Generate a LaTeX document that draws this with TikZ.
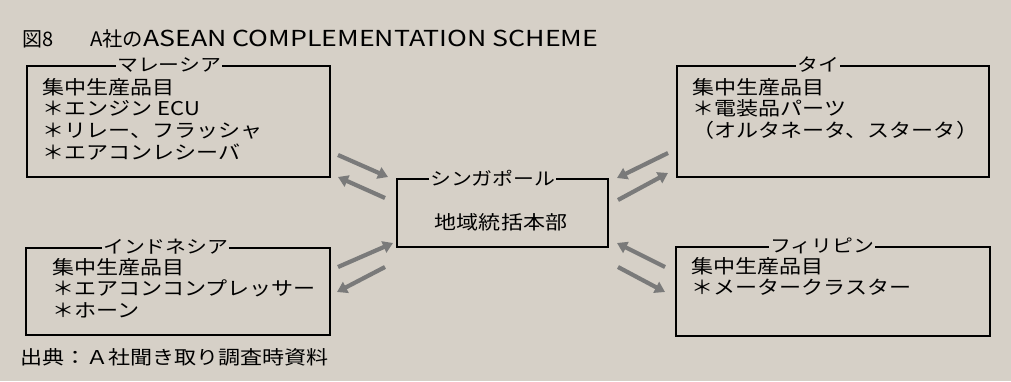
\documentclass[tikz,border=0pt]{standalone}
\usepackage{fontspec}
\setmainfont[FakeStretch=1.16]{Noto Sans CJK JP}
\newfontfamily\plainjp{Noto Sans CJK JP}
\usetikzlibrary{arrows.meta}
\definecolor{bg}{RGB}{214,208,199}
\definecolor{arr}{RGB}{122,122,122}
\begin{document}
\begin{tikzpicture}[x=1pt,y=-1pt,
  box/.style={draw=black, line width=1.6pt, inner sep=0pt, anchor=north west},
  lbl/.style={fill=bg, inner xsep=1pt, inner ysep=0pt, anchor=west, font=\fontsize{18}{18}\selectfont},
  body/.style={anchor=north west, inner sep=0pt, align=left, font=\fontsize{19}{21.7}\selectfont},
  flow/.style={draw=arr, line width=4.2pt, -{Triangle[width=12pt,length=10pt]}}]
\fill[bg] (0,0) rectangle (1011,381);
\useasboundingbox (0,0) rectangle (1011,381);

% title
\node[anchor=base west, inner sep=0pt, font=\plainjp\fontsize{20}{20}\selectfont] (title) at (22,46)
  {\makebox[68pt][l]{図8}\resizebox{53pt}{\height}{A社の}\resizebox{455pt}{\height}{\fontsize{22}{22}\selectfont ASEAN COMPLEMENTATION SCHEME}};

% boxes
\node[box, minimum width=303, minimum height=111] (my) at (26,65) {};
\node[box, minimum width=304, minimum height=87] (id) at (25,247) {};
\node[box, minimum width=211, minimum height=68] (sg) at (396,178) {};
\node[box, minimum width=312, minimum height=111] (th) at (676,65) {};
\node[box, minimum width=314, minimum height=89] (ph) at (675,246) {};

% labels
\node[lbl] (my-l) at (116,65) {マレーシア\hspace{18pt}};
\node[lbl] (id-l) at (102,247) {インドネシア\hspace{6pt}};
\node[lbl] (sg-l) at (429,178) {シンガポール\hspace{12pt}};
\node[lbl] (th-l) at (796,65) {タイ\hspace{14pt}};
\node[lbl] (ph-l) at (769,246) {フィリピン\hspace{6pt}};

% contents
\node[body] (my-t) at (42,78) {集中生産品目\\＊エンジン ECU\\＊リレー、フラッシャ\\＊エアコンレシーバ};
\node[body] (id-t) at (52,258) {集中生産品目\\＊エアコンコンプレッサー\\＊ホーン};
\node[body] (th-t) at (692,78) {集中生産品目\\＊電装品パーツ\\（オルタネータ、スタータ）};
\node[body] (ph-t) at (691,257) {集中生産品目\\＊メータークラスター};
\node[inner sep=0pt, font=\fontsize{19}{19}\selectfont] (sg-t) at (501,222) {地域統括本部};

% source
\node[anchor=west, inner sep=0pt, font=\fontsize{19}{19}\selectfont] (src) at (20,357) {出典：Ａ社聞き取り調査時資料};

% arrow end points
\coordinate (a1) at (338,155); \coordinate (b1) at (388,177);
\coordinate (a2) at (385,198); \coordinate (b2) at (338,177);
\coordinate (a3) at (338,267); \coordinate (b3) at (393,243);
\coordinate (a4) at (385,267); \coordinate (b4) at (337,292);
\coordinate (a5) at (668,153); \coordinate (b5) at (617,178);
\coordinate (a6) at (618,200); \coordinate (b6) at (668,173);
\coordinate (a7) at (665,267); \coordinate (b7) at (617,243);
\coordinate (a8) at (618,267); \coordinate (b8) at (665,292);

\draw[flow] (a1) -- (b1);
\draw[flow] (a2) -- (b2);
\draw[flow] (a3) -- (b3);
\draw[flow] (a4) -- (b4);
\draw[flow] (a5) -- (b5);
\draw[flow] (a6) -- (b6);
\draw[flow] (a7) -- (b7);
\draw[flow] (a8) -- (b8);
\end{tikzpicture}
\end{document}
